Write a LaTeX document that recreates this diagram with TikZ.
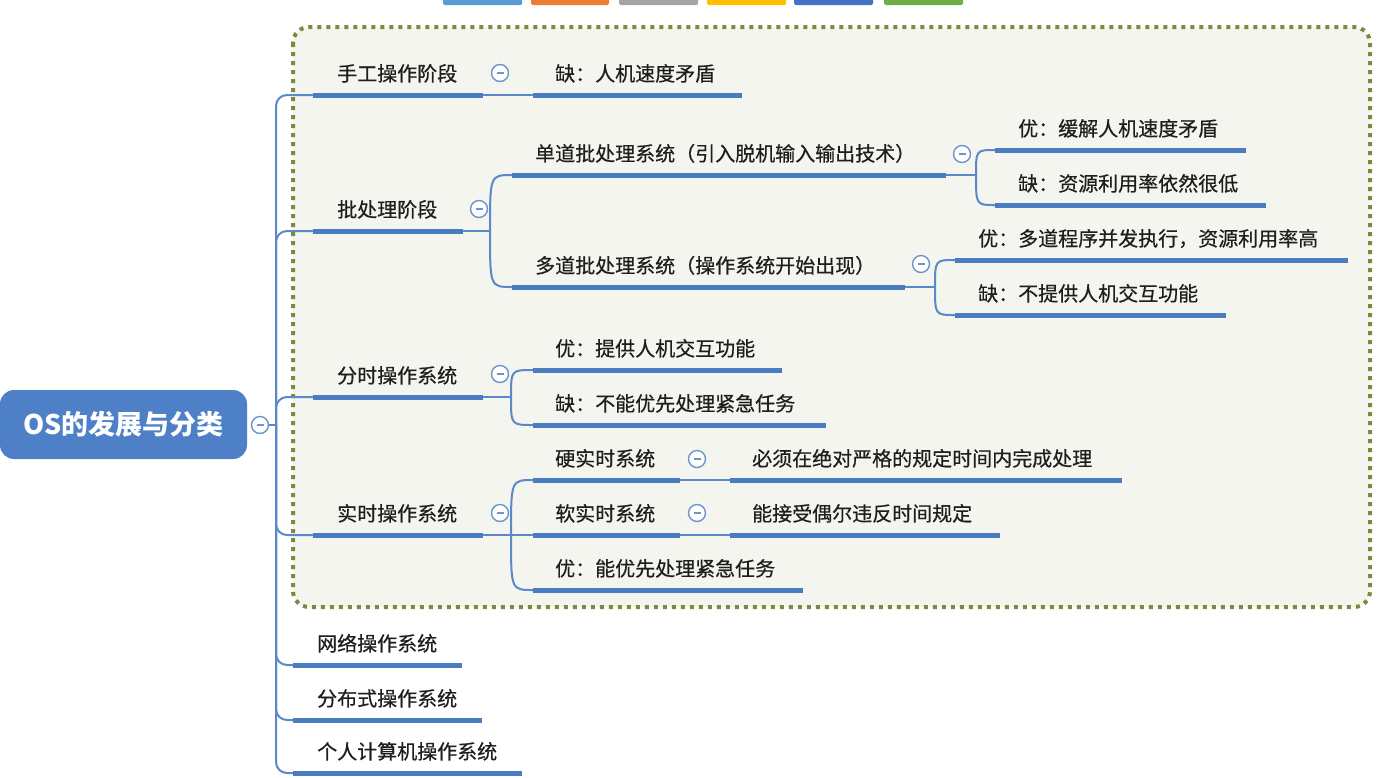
\documentclass[tikz,border=0pt]{standalone}
\usepackage{fontspec}
\newfontfamily\cjk[FakeBold=0.5]{Noto Sans CJK SC}
\newfontfamily\cjkroot{Noto Sans CJK SC}
\usetikzlibrary{calc}
\definecolor{ulblue}{HTML}{4A7CC0}
\definecolor{lnblue}{HTML}{5A88C8}
\definecolor{foldc}{HTML}{6D94CC}
\definecolor{txt}{HTML}{1E1E1E}
\definecolor{rootfill}{HTML}{4D80C6}
\definecolor{framec}{HTML}{7A8B40}
\definecolor{framefill}{HTML}{F4F5EE}
\definecolor{barA}{HTML}{5B9BD5}
\definecolor{barB}{HTML}{ED7D31}
\definecolor{barC}{HTML}{A5A5A5}
\definecolor{barD}{HTML}{FFC000}
\definecolor{barE}{HTML}{4472C4}
\definecolor{barF}{HTML}{70AD47}
\begin{document}
\begin{tikzpicture}[x=1pt,y=-1pt,
  ul/.style={line width=5pt, draw=ulblue},
  conn/.style={line width=2pt, draw=lnblue, line cap=round},
  topic/.style={anchor=base west, inner sep=0pt, font=\cjk\fontsize{20}{24}\selectfont, text=txt},
  rootbox/.style={fill=rootfill, rounded corners=14pt, minimum width=247pt, minimum height=69pt, inner sep=0pt, text=white, font=\cjkroot\bfseries\fontsize{27}{31}\selectfont},
  fold/.style={circle, draw=foldc, line width=1.4pt, fill=white, minimum size=17pt, inner sep=0pt,
    path picture={\draw[foldc, line width=1.4pt] ([xshift=-3.5pt]path picture bounding box.center) -- ([xshift=3.5pt]path picture bounding box.center);}},
  framebox/.style={draw=framec, fill=framefill, line width=4pt, dash pattern=on 4pt off 5pt, rounded corners=16pt},
  bar/.style={rounded corners=1.5pt}
]
\useasboundingbox (0,0) rectangle (1380,777);
\fill[white] (0,0) rectangle (1380,777);

% toolbar colour bars
\fill[bar, barA] (443,-4) rectangle (522,5);
\fill[bar, barB] (531,-4) rectangle (609,5);
\fill[bar, barC] (619,-4) rectangle (698,5);
\fill[bar, barD] (707,-4) rectangle (786,5);
\fill[bar, barE] (794,-4) rectangle (873,5);
\fill[bar, barF] (884,-4) rectangle (963,5);

% dotted frame
\draw[framebox] (293,27) rectangle (1370,607);

% root
\node[rootbox] (root) at (123.5,424.5) {OS的发展与分类};
\node[fold] (f0) at (260,425) {};
\coordinate (j0) at (276,425);

% coordinates of underlines
\coordinate (a1s) at (313,95);   \coordinate (a1e) at (483,95);
\coordinate (a11s) at (533,95);  \coordinate (a11e) at (742,95);
\coordinate (a2s) at (313,231);  \coordinate (a2e) at (463,231);  \coordinate (a2j) at (490,231);
\coordinate (a21s) at (512,175); \coordinate (a21e) at (946,175); \coordinate (a21j) at (976,175);
\coordinate (a211s) at (995,150); \coordinate (a211e) at (1246,150);
\coordinate (a212s) at (995,205); \coordinate (a212e) at (1266,205);
\coordinate (a22s) at (512,287); \coordinate (a22e) at (905,287); \coordinate (a22j) at (935,287);
\coordinate (a221s) at (955,260); \coordinate (a221e) at (1348,260);
\coordinate (a222s) at (955,315); \coordinate (a222e) at (1226,315);
\coordinate (a3s) at (313,397);  \coordinate (a3e) at (483,397);  \coordinate (a3j) at (511,397);
\coordinate (a31s) at (533,370); \coordinate (a31e) at (782,370);
\coordinate (a32s) at (533,425); \coordinate (a32e) at (826,425);
\coordinate (a4s) at (313,535);  \coordinate (a4e) at (483,535);  \coordinate (a4j) at (511,535);
\coordinate (a41s) at (533,480); \coordinate (a41e) at (680,480);
\coordinate (a411s) at (730,480); \coordinate (a411e) at (1122,480);
\coordinate (a42s) at (533,535); \coordinate (a42e) at (680,535);
\coordinate (a421s) at (730,535); \coordinate (a421e) at (1000,535);
\coordinate (a43s) at (533,590); \coordinate (a43e) at (803,590);
\coordinate (a5s) at (293,665);  \coordinate (a5e) at (462,665);
\coordinate (a6s) at (293,720);  \coordinate (a6e) at (482,720);
\coordinate (a7s) at (293,773);  \coordinate (a7e) at (522,773);

% connectors
\draw[conn] (f0.east) -- (j0);
\foreach \c in {a1s,a2s,a3s,a4s,a5s,a6s,a7s}
  \draw[conn, rounded corners=11pt] (j0) -- (j0 |- \c) -- (\c);
\draw[conn] (a1e) -- (a11s);
\draw[conn] (a2e) -- (a2j);
\foreach \c in {a21s,a22s} \draw[conn] (a2j) .. controls (a2j |- \c) .. (\c);
\draw[conn] (a21e) -- (a21j);
\foreach \c in {a211s,a212s} \draw[conn] (a21j) .. controls (a21j |- \c) .. (\c);
\draw[conn] (a22e) -- (a22j);
\foreach \c in {a221s,a222s} \draw[conn] (a22j) .. controls (a22j |- \c) .. (\c);
\draw[conn] (a3e) -- (a3j);
\foreach \c in {a31s,a32s} \draw[conn] (a3j) .. controls (a3j |- \c) .. (\c);
\draw[conn] (a4e) -- (a4j);
\foreach \c in {a41s,a43s} \draw[conn] (a4j) .. controls (a4j |- \c) .. (\c);
\draw[conn] (a4j) -- (a42s);
\draw[conn] (a41e) -- (a411s);
\draw[conn] (a42e) -- (a421s);

% underlines
\foreach \n in {a1,a11,a2,a21,a211,a212,a22,a221,a222,a3,a31,a32,a4,a41,a411,a42,a421,a43,a5,a6,a7}
  \draw[ul] (\n s) -- (\n e);

% fold buttons
\node[fold] (f1) at (500,73) {};
\node[fold] (f2) at (479,209) {};
\node[fold] (f21) at (962,154) {};
\node[fold] (f22) at (921,264) {};
\node[fold] (f3) at (500,374) {};
\node[fold] (f4) at (500,513) {};
\node[fold] (f41) at (697,459) {};
\node[fold] (f42) at (697,513) {};

% texts
\node[topic] (t1) at (337,81) {手工操作阶段};
\node[topic] (t11) at (555,81) {缺：人机速度矛盾};
\node[topic] (t2) at (337,217) {批处理阶段};
\node[topic] (t21) at (535,161) {单道批处理系统（引入脱机输入输出技术）};
\node[topic] (t211) at (1018,136) {优：缓解人机速度矛盾};
\node[topic] (t212) at (1018,191) {缺：资源利用率依然很低};
\node[topic] (t22) at (535,273) {多道批处理系统（操作系统开始出现）};
\node[topic] (t221) at (978,246) {优：多道程序并发执行，资源利用率高};
\node[topic] (t222) at (978,301) {缺：不提供人机交互功能};
\node[topic] (t3) at (337,383) {分时操作系统};
\node[topic] (t31) at (555,356) {优：提供人机交互功能};
\node[topic] (t32) at (555,411) {缺：不能优先处理紧急任务};
\node[topic] (t4) at (337,521) {实时操作系统};
\node[topic] (t41) at (555,466) {硬实时系统};
\node[topic] (t411) at (752,466) {必须在绝对严格的规定时间内完成处理};
\node[topic] (t42) at (555,521) {软实时系统};
\node[topic] (t421) at (752,521) {能接受偶尔违反时间规定};
\node[topic] (t43) at (555,576) {优：能优先处理紧急任务};
\node[topic] (t5) at (317,651) {网络操作系统};
\node[topic] (t6) at (317,706) {分布式操作系统};
\node[topic] (t7) at (317,759) {个人计算机操作系统};
\end{tikzpicture}
\end{document}
